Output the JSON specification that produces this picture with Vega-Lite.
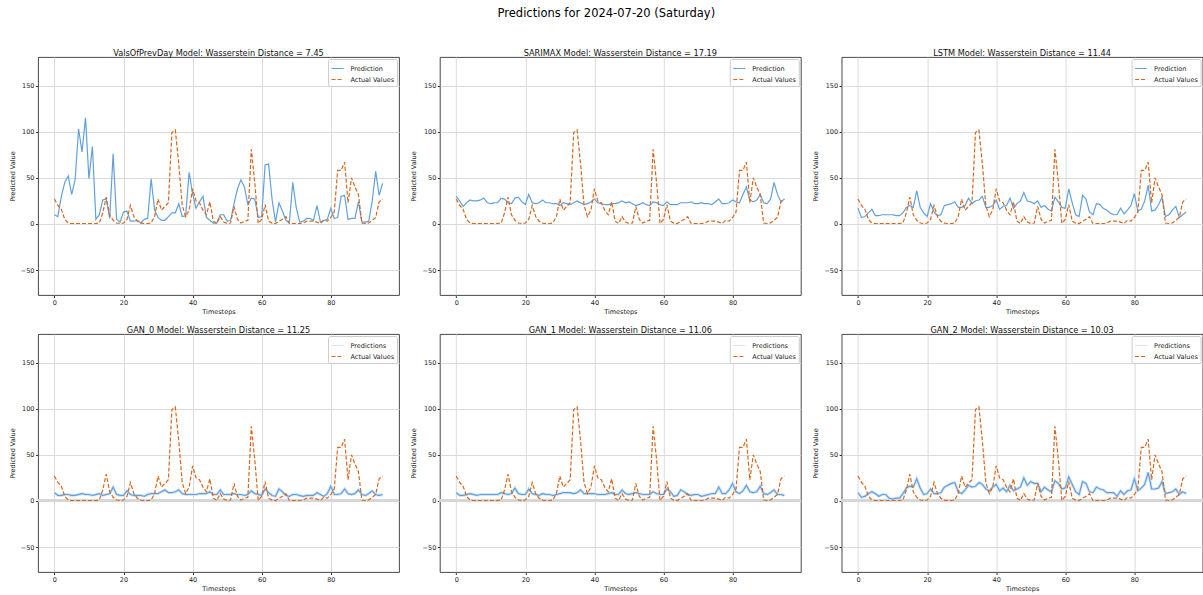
{
  "$schema": "https://vega.github.io/schema/vega-lite/v6.json",
  "title": {"text": "Predictions for 2024-07-20 (Saturday)", "fontSize": 11.5, "fontWeight": "normal", "offset": 28.5, "anchor": "middle", "color": "#000000"},
  "padding": {"left": 8, "top": 8, "right": 0, "bottom": 0},
  "datasets": {
    "ts": [
      {"t":0,"actual":27,"VPD":10,"SARIMAX":30,"LSTM":17,"GAN_0":9,"GAN_1":9,"GAN_2":9},
      {"t":1,"actual":20,"VPD":8,"SARIMAX":25,"LSTM":7,"GAN_0":6,"GAN_1":6,"GAN_2":4},
      {"t":2,"actual":16,"VPD":30,"SARIMAX":19,"LSTM":8,"GAN_0":6,"GAN_1":6,"GAN_2":5},
      {"t":3,"actual":5,"VPD":45,"SARIMAX":23,"LSTM":12,"GAN_0":7,"GAN_1":7,"GAN_2":8},
      {"t":4,"actual":1,"VPD":52,"SARIMAX":26,"LSTM":16,"GAN_0":7,"GAN_1":8,"GAN_2":10},
      {"t":5,"actual":0.5,"VPD":32,"SARIMAX":25,"LSTM":9,"GAN_0":6,"GAN_1":7,"GAN_2":8},
      {"t":6,"actual":0.5,"VPD":48,"SARIMAX":25,"LSTM":9,"GAN_0":6,"GAN_1":6,"GAN_2":5},
      {"t":7,"actual":0.5,"VPD":103,"SARIMAX":26,"LSTM":10,"GAN_0":7,"GAN_1":7,"GAN_2":7},
      {"t":8,"actual":0.5,"VPD":78,"SARIMAX":28,"LSTM":10,"GAN_0":8,"GAN_1":7,"GAN_2":7},
      {"t":9,"actual":0.5,"VPD":115,"SARIMAX":23,"LSTM":10,"GAN_0":7,"GAN_1":7,"GAN_2":3},
      {"t":10,"actual":0.5,"VPD":49,"SARIMAX":22,"LSTM":10,"GAN_0":7,"GAN_1":7,"GAN_2":2},
      {"t":11,"actual":0.5,"VPD":84,"SARIMAX":23,"LSTM":9,"GAN_0":6,"GAN_1":7,"GAN_2":3},
      {"t":12,"actual":0.5,"VPD":5,"SARIMAX":23,"LSTM":9,"GAN_0":7,"GAN_1":7,"GAN_2":3},
      {"t":13,"actual":1,"VPD":10,"SARIMAX":28,"LSTM":12,"GAN_0":8,"GAN_1":9,"GAN_2":8},
      {"t":14,"actual":12,"VPD":26,"SARIMAX":27,"LSTM":18,"GAN_0":6,"GAN_1":8,"GAN_2":14},
      {"t":15,"actual":29,"VPD":27,"SARIMAX":23,"LSTM":20,"GAN_0":7,"GAN_1":7,"GAN_2":16},
      {"t":16,"actual":10,"VPD":6,"SARIMAX":22,"LSTM":18,"GAN_0":8,"GAN_1":8,"GAN_2":15},
      {"t":17,"actual":4,"VPD":76,"SARIMAX":28,"LSTM":36,"GAN_0":15,"GAN_1":14,"GAN_2":24},
      {"t":18,"actual":1,"VPD":5,"SARIMAX":29,"LSTM":18,"GAN_0":7,"GAN_1":8,"GAN_2":14},
      {"t":19,"actual":0.5,"VPD":2,"SARIMAX":24,"LSTM":12,"GAN_0":6,"GAN_1":7,"GAN_2":7},
      {"t":20,"actual":1,"VPD":13,"SARIMAX":21,"LSTM":8,"GAN_0":6,"GAN_1":7,"GAN_2":8},
      {"t":21,"actual":5,"VPD":14,"SARIMAX":32,"LSTM":22,"GAN_0":11,"GAN_1":13,"GAN_2":13},
      {"t":22,"actual":20,"VPD":3,"SARIMAX":23,"LSTM":13,"GAN_0":7,"GAN_1":8,"GAN_2":8},
      {"t":23,"actual":8,"VPD":3,"SARIMAX":22,"LSTM":9,"GAN_0":6,"GAN_1":7,"GAN_2":8},
      {"t":24,"actual":3,"VPD":4,"SARIMAX":23,"LSTM":10,"GAN_0":6,"GAN_1":6,"GAN_2":9},
      {"t":25,"actual":1,"VPD":1,"SARIMAX":26,"LSTM":20,"GAN_0":6,"GAN_1":8,"GAN_2":15},
      {"t":26,"actual":0.5,"VPD":5,"SARIMAX":23,"LSTM":21,"GAN_0":5,"GAN_1":7,"GAN_2":17},
      {"t":27,"actual":0.5,"VPD":6,"SARIMAX":23,"LSTM":22,"GAN_0":7,"GAN_1":7,"GAN_2":19},
      {"t":28,"actual":1,"VPD":49,"SARIMAX":22,"LSTM":24,"GAN_0":8,"GAN_1":6,"GAN_2":20},
      {"t":29,"actual":8,"VPD":15,"SARIMAX":22,"LSTM":18,"GAN_0":8,"GAN_1":7,"GAN_2":10},
      {"t":30,"actual":27,"VPD":7,"SARIMAX":20,"LSTM":18,"GAN_0":8,"GAN_1":8,"GAN_2":8},
      {"t":31,"actual":15,"VPD":4,"SARIMAX":23,"LSTM":20,"GAN_0":10,"GAN_1":9,"GAN_2":12},
      {"t":32,"actual":19,"VPD":4,"SARIMAX":22,"LSTM":28,"GAN_0":12,"GAN_1":9,"GAN_2":17},
      {"t":33,"actual":23,"VPD":8,"SARIMAX":21,"LSTM":22,"GAN_0":9,"GAN_1":9,"GAN_2":15},
      {"t":34,"actual":99,"VPD":12,"SARIMAX":23,"LSTM":25,"GAN_0":9,"GAN_1":8,"GAN_2":16},
      {"t":35,"actual":102,"VPD":12,"SARIMAX":25,"LSTM":26,"GAN_0":10,"GAN_1":9,"GAN_2":20},
      {"t":36,"actual":65,"VPD":22,"SARIMAX":23,"LSTM":30,"GAN_0":12,"GAN_1":12,"GAN_2":18},
      {"t":37,"actual":20,"VPD":8,"SARIMAX":21,"LSTM":18,"GAN_0":8,"GAN_1":8,"GAN_2":13},
      {"t":38,"actual":8,"VPD":9,"SARIMAX":22,"LSTM":18,"GAN_0":7,"GAN_1":8,"GAN_2":11},
      {"t":39,"actual":15,"VPD":56,"SARIMAX":24,"LSTM":20,"GAN_0":7,"GAN_1":8,"GAN_2":15},
      {"t":40,"actual":38,"VPD":33,"SARIMAX":27,"LSTM":26,"GAN_0":7,"GAN_1":8,"GAN_2":18},
      {"t":41,"actual":25,"VPD":17,"SARIMAX":23,"LSTM":16,"GAN_0":7,"GAN_1":7,"GAN_2":11},
      {"t":42,"actual":23,"VPD":24,"SARIMAX":22,"LSTM":19,"GAN_0":8,"GAN_1":7,"GAN_2":14},
      {"t":43,"actual":15,"VPD":30,"SARIMAX":21,"LSTM":20,"GAN_0":8,"GAN_1":7,"GAN_2":10},
      {"t":44,"actual":10,"VPD":7,"SARIMAX":21,"LSTM":28,"GAN_0":8,"GAN_1":8,"GAN_2":17},
      {"t":45,"actual":24,"VPD":4,"SARIMAX":22,"LSTM":17,"GAN_0":10,"GAN_1":9,"GAN_2":11},
      {"t":46,"actual":3,"VPD":1,"SARIMAX":22,"LSTM":22,"GAN_0":7,"GAN_1":7,"GAN_2":13},
      {"t":47,"actual":0.5,"VPD":1,"SARIMAX":23,"LSTM":25,"GAN_0":7,"GAN_1":7,"GAN_2":15},
      {"t":48,"actual":8,"VPD":10,"SARIMAX":25,"LSTM":34,"GAN_0":12,"GAN_1":12,"GAN_2":25},
      {"t":49,"actual":2,"VPD":10,"SARIMAX":23,"LSTM":25,"GAN_0":7,"GAN_1":8,"GAN_2":17},
      {"t":50,"actual":0.5,"VPD":3,"SARIMAX":24,"LSTM":24,"GAN_0":7,"GAN_1":7,"GAN_2":21},
      {"t":51,"actual":1,"VPD":4,"SARIMAX":22,"LSTM":22,"GAN_0":7,"GAN_1":8,"GAN_2":19},
      {"t":52,"actual":19,"VPD":22,"SARIMAX":20,"LSTM":25,"GAN_0":8,"GAN_1":9,"GAN_2":19},
      {"t":53,"actual":5,"VPD":38,"SARIMAX":21,"LSTM":18,"GAN_0":7,"GAN_1":8,"GAN_2":10},
      {"t":54,"actual":1,"VPD":48,"SARIMAX":23,"LSTM":20,"GAN_0":7,"GAN_1":7,"GAN_2":15},
      {"t":55,"actual":3,"VPD":40,"SARIMAX":21,"LSTM":16,"GAN_0":6,"GAN_1":7,"GAN_2":12},
      {"t":56,"actual":4,"VPD":21,"SARIMAX":20,"LSTM":14,"GAN_0":7,"GAN_1":7,"GAN_2":10},
      {"t":57,"actual":81,"VPD":28,"SARIMAX":24,"LSTM":29,"GAN_0":11,"GAN_1":10,"GAN_2":22},
      {"t":58,"actual":45,"VPD":27,"SARIMAX":23,"LSTM":24,"GAN_0":8,"GAN_1":8,"GAN_2":19},
      {"t":59,"actual":0.5,"VPD":7,"SARIMAX":21,"LSTM":18,"GAN_0":7,"GAN_1":7,"GAN_2":13},
      {"t":60,"actual":5,"VPD":8,"SARIMAX":20,"LSTM":17,"GAN_0":6,"GAN_1":7,"GAN_2":14},
      {"t":61,"actual":21,"VPD":64,"SARIMAX":24,"LSTM":38,"GAN_0":13,"GAN_1":13,"GAN_2":26},
      {"t":62,"actual":3,"VPD":65,"SARIMAX":21,"LSTM":23,"GAN_0":9,"GAN_1":10,"GAN_2":18},
      {"t":63,"actual":1,"VPD":27,"SARIMAX":21,"LSTM":10,"GAN_0":6,"GAN_1":5,"GAN_2":10},
      {"t":64,"actual":0.5,"VPD":2,"SARIMAX":21,"LSTM":8,"GAN_0":5,"GAN_1":6,"GAN_2":7},
      {"t":65,"actual":3,"VPD":23,"SARIMAX":23,"LSTM":31,"GAN_0":13,"GAN_1":12,"GAN_2":21},
      {"t":66,"actual":5,"VPD":14,"SARIMAX":23,"LSTM":27,"GAN_0":10,"GAN_1":10,"GAN_2":19},
      {"t":67,"actual":8,"VPD":4,"SARIMAX":23,"LSTM":13,"GAN_0":6,"GAN_1":7,"GAN_2":10},
      {"t":68,"actual":0.5,"VPD":1,"SARIMAX":24,"LSTM":10,"GAN_0":5,"GAN_1":6,"GAN_2":9},
      {"t":69,"actual":0.5,"VPD":45,"SARIMAX":22,"LSTM":22,"GAN_0":7,"GAN_1":7,"GAN_2":15},
      {"t":70,"actual":0.5,"VPD":18,"SARIMAX":22,"LSTM":21,"GAN_0":7,"GAN_1":7,"GAN_2":13},
      {"t":71,"actual":0.5,"VPD":2,"SARIMAX":23,"LSTM":17,"GAN_0":6,"GAN_1":5,"GAN_2":12},
      {"t":72,"actual":1,"VPD":3,"SARIMAX":22,"LSTM":15,"GAN_0":5,"GAN_1":6,"GAN_2":9},
      {"t":73,"actual":3,"VPD":6,"SARIMAX":22,"LSTM":12,"GAN_0":6,"GAN_1":7,"GAN_2":9},
      {"t":74,"actual":3,"VPD":6,"SARIMAX":21,"LSTM":10,"GAN_0":6,"GAN_1":8,"GAN_2":9},
      {"t":75,"actual":3,"VPD":4,"SARIMAX":24,"LSTM":10,"GAN_0":6,"GAN_1":8,"GAN_2":5},
      {"t":76,"actual":2,"VPD":20,"SARIMAX":27,"LSTM":17,"GAN_0":9,"GAN_1":15,"GAN_2":11},
      {"t":77,"actual":0.5,"VPD":2,"SARIMAX":22,"LSTM":11,"GAN_0":7,"GAN_1":8,"GAN_2":7},
      {"t":78,"actual":4,"VPD":4,"SARIMAX":22,"LSTM":15,"GAN_0":5,"GAN_1":8,"GAN_2":11},
      {"t":79,"actual":3,"VPD":5,"SARIMAX":23,"LSTM":20,"GAN_0":8,"GAN_1":12,"GAN_2":12},
      {"t":80,"actual":7,"VPD":17,"SARIMAX":26,"LSTM":33,"GAN_0":16,"GAN_1":19,"GAN_2":24},
      {"t":81,"actual":13,"VPD":6,"SARIMAX":24,"LSTM":14,"GAN_0":7,"GAN_1":10,"GAN_2":11},
      {"t":82,"actual":58,"VPD":7,"SARIMAX":23,"LSTM":16,"GAN_0":7,"GAN_1":8,"GAN_2":14},
      {"t":83,"actual":58,"VPD":30,"SARIMAX":32,"LSTM":25,"GAN_0":8,"GAN_1":11,"GAN_2":18},
      {"t":84,"actual":67,"VPD":31,"SARIMAX":40,"LSTM":42,"GAN_0":13,"GAN_1":17,"GAN_2":31},
      {"t":85,"actual":23,"VPD":5,"SARIMAX":26,"LSTM":14,"GAN_0":8,"GAN_1":10,"GAN_2":13},
      {"t":86,"actual":50,"VPD":6,"SARIMAX":24,"LSTM":15,"GAN_0":7,"GAN_1":9,"GAN_2":13},
      {"t":87,"actual":40,"VPD":6,"SARIMAX":26,"LSTM":21,"GAN_0":8,"GAN_1":10,"GAN_2":14},
      {"t":88,"actual":32,"VPD":24,"SARIMAX":32,"LSTM":29,"GAN_0":12,"GAN_1":16,"GAN_2":21},
      {"t":89,"actual":1,"VPD":2,"SARIMAX":23,"LSTM":8,"GAN_0":7,"GAN_1":8,"GAN_2":8},
      {"t":90,"actual":0.5,"VPD":2,"SARIMAX":22,"LSTM":10,"GAN_0":6,"GAN_1":7,"GAN_2":9},
      {"t":91,"actual":1,"VPD":3,"SARIMAX":27,"LSTM":15,"GAN_0":8,"GAN_1":9,"GAN_2":10},
      {"t":92,"actual":4,"VPD":25,"SARIMAX":45,"LSTM":19,"GAN_0":11,"GAN_1":12,"GAN_2":13},
      {"t":93,"actual":7,"VPD":57,"SARIMAX":32,"LSTM":7,"GAN_0":7,"GAN_1":7,"GAN_2":7},
      {"t":94,"actual":24,"VPD":31,"SARIMAX":24,"LSTM":10,"GAN_0":6,"GAN_1":7,"GAN_2":10},
      {"t":95,"actual":27,"VPD":44,"SARIMAX":27,"LSTM":13,"GAN_0":7,"GAN_1":6,"GAN_2":8}
    ]
  },
  "data": {"name": "ts"},
  "columns": 3,
  "spacing": {"row": 9, "column": 8.8},
  "concat": [
    {
      "title": "ValsOfPrevDay Model: Wasserstein Distance = 7.45",
      "width": 361, "height": 238,
      "encoding": {
        "x": {"field": "t", "type": "quantitative", "scale": {"domain": [-4.75, 99.75], "nice": false, "zero": false}, "axis": {"values": [0, 20, 40, 60, 80], "title": "Timesteps"}},
        "y": {"field": "value", "type": "quantitative", "scale": {"domain": [-77, 181], "nice": false}, "axis": {"values": [-50, 0, 50, 100, 150], "title": "Predicted Value"}},
        "color": {"field": "series", "type": "nominal", "scale": {"domain": ["VPD", "actual"], "range": ["#62a0dc", "#d8661c"]}, "legend": {"title": null, "labelExpr": "datum.label == 'actual' ? 'Actual Values' : 'Prediction'"}},
        "strokeDash": {"field": "series", "type": "nominal", "scale": {"domain": ["VPD", "actual"], "range": [[1, 0], [4, 2]]}, "legend": {"title": null, "labelExpr": "datum.label == 'actual' ? 'Actual Values' : 'Prediction'"}}
      },
      "layer": [
        {"transform": [{"fold": ["VPD"], "as": ["series", "value"]}], "mark": {"type": "line"}},
        {"transform": [{"fold": ["actual"], "as": ["series", "value"]}], "mark": {"type": "line"}}
      ]
    },
    {
      "title": "SARIMAX Model: Wasserstein Distance = 17.19",
      "width": 361, "height": 238,
      "encoding": {
        "x": {"field": "t", "type": "quantitative", "scale": {"domain": [-4.75, 99.75], "nice": false, "zero": false}, "axis": {"values": [0, 20, 40, 60, 80], "title": "Timesteps"}},
        "y": {"field": "value", "type": "quantitative", "scale": {"domain": [-77, 181], "nice": false}, "axis": {"values": [-50, 0, 50, 100, 150], "title": "Predicted Value"}},
        "color": {"field": "series", "type": "nominal", "scale": {"domain": ["SARIMAX", "actual"], "range": ["#62a0dc", "#d8661c"]}, "legend": {"title": null, "labelExpr": "datum.label == 'actual' ? 'Actual Values' : 'Prediction'"}},
        "strokeDash": {"field": "series", "type": "nominal", "scale": {"domain": ["SARIMAX", "actual"], "range": [[1, 0], [4, 2]]}, "legend": {"title": null, "labelExpr": "datum.label == 'actual' ? 'Actual Values' : 'Prediction'"}}
      },
      "layer": [
        {"transform": [{"fold": ["SARIMAX"], "as": ["series", "value"]}], "mark": {"type": "line"}},
        {"transform": [{"fold": ["actual"], "as": ["series", "value"]}], "mark": {"type": "line"}}
      ]
    },
    {
      "title": "LSTM Model: Wasserstein Distance = 11.44",
      "width": 361, "height": 238,
      "encoding": {
        "x": {"field": "t", "type": "quantitative", "scale": {"domain": [-4.75, 99.75], "nice": false, "zero": false}, "axis": {"values": [0, 20, 40, 60, 80], "title": "Timesteps"}},
        "y": {"field": "value", "type": "quantitative", "scale": {"domain": [-77, 181], "nice": false}, "axis": {"values": [-50, 0, 50, 100, 150], "title": "Predicted Value"}},
        "color": {"field": "series", "type": "nominal", "scale": {"domain": ["LSTM", "actual"], "range": ["#62a0dc", "#d8661c"]}, "legend": {"title": null, "labelExpr": "datum.label == 'actual' ? 'Actual Values' : 'Prediction'"}},
        "strokeDash": {"field": "series", "type": "nominal", "scale": {"domain": ["LSTM", "actual"], "range": [[1, 0], [4, 2]]}, "legend": {"title": null, "labelExpr": "datum.label == 'actual' ? 'Actual Values' : 'Prediction'"}}
      },
      "layer": [
        {"transform": [{"fold": ["LSTM"], "as": ["series", "value"]}], "mark": {"type": "line"}},
        {"transform": [{"fold": ["actual"], "as": ["series", "value"]}], "mark": {"type": "line"}}
      ]
    },
    {
      "title": "GAN_0 Model: Wasserstein Distance = 11.25",
      "width": 361, "height": 238,
      "layer": [
        {"mark": {"type": "rule", "color": "#d6d6d6", "strokeWidth": 2.2}, "encoding": {"y": {"datum": 0, "type": "quantitative", "scale": {"domain": [-77, 181], "nice": false}}}},
        {
          "encoding": {
            "x": {"field": "t", "type": "quantitative", "scale": {"domain": [-4.75, 99.75], "nice": false, "zero": false}, "axis": {"values": [0, 20, 40, 60, 80], "title": "Timesteps"}},
            "y": {"field": "value", "type": "quantitative", "scale": {"domain": [-77, 181], "nice": false}, "axis": {"values": [-50, 0, 50, 100, 150], "title": "Predicted Value"}},
            "color": {"field": "series", "type": "nominal", "scale": {"domain": ["GAN_0", "actual"], "range": ["#d6e5f5", "#d8661c"]}, "legend": {"title": null, "labelExpr": "datum.label == 'actual' ? 'Actual Values' : 'Predictions'"}},
            "strokeDash": {"field": "series", "type": "nominal", "scale": {"domain": ["GAN_0", "actual"], "range": [[1, 0], [4, 2]]}, "legend": {"title": null, "labelExpr": "datum.label == 'actual' ? 'Actual Values' : 'Predictions'"}}
          },
          "layer": [
            {"transform": [{"fold": ["GAN_0"], "as": ["series", "value"]}], "mark": {"type": "line", "strokeWidth": 3}},
            {"transform": [{"fold": ["GAN_0"], "as": ["series", "value"]}], "mark": {"type": "line"}, "encoding": {"color": {"value": "#62a0dc"}, "strokeDash": {"value": [1, 0]}}},
            {"transform": [{"fold": ["actual"], "as": ["series", "value"]}], "mark": {"type": "line"}}
          ]
        }
      ]
    },
    {
      "title": "GAN_1 Model: Wasserstein Distance = 11.06",
      "width": 361, "height": 238,
      "layer": [
        {"mark": {"type": "rule", "color": "#d6d6d6", "strokeWidth": 2.2}, "encoding": {"y": {"datum": 0, "type": "quantitative", "scale": {"domain": [-77, 181], "nice": false}}}},
        {
          "encoding": {
            "x": {"field": "t", "type": "quantitative", "scale": {"domain": [-4.75, 99.75], "nice": false, "zero": false}, "axis": {"values": [0, 20, 40, 60, 80], "title": "Timesteps"}},
            "y": {"field": "value", "type": "quantitative", "scale": {"domain": [-77, 181], "nice": false}, "axis": {"values": [-50, 0, 50, 100, 150], "title": "Predicted Value"}},
            "color": {"field": "series", "type": "nominal", "scale": {"domain": ["GAN_1", "actual"], "range": ["#d6e5f5", "#d8661c"]}, "legend": {"title": null, "labelExpr": "datum.label == 'actual' ? 'Actual Values' : 'Predictions'"}},
            "strokeDash": {"field": "series", "type": "nominal", "scale": {"domain": ["GAN_1", "actual"], "range": [[1, 0], [4, 2]]}, "legend": {"title": null, "labelExpr": "datum.label == 'actual' ? 'Actual Values' : 'Predictions'"}}
          },
          "layer": [
            {"transform": [{"fold": ["GAN_1"], "as": ["series", "value"]}], "mark": {"type": "line", "strokeWidth": 3}},
            {"transform": [{"fold": ["GAN_1"], "as": ["series", "value"]}], "mark": {"type": "line"}, "encoding": {"color": {"value": "#62a0dc"}, "strokeDash": {"value": [1, 0]}}},
            {"transform": [{"fold": ["actual"], "as": ["series", "value"]}], "mark": {"type": "line"}}
          ]
        }
      ]
    },
    {
      "title": "GAN_2 Model: Wasserstein Distance = 10.03",
      "width": 361, "height": 238,
      "layer": [
        {"mark": {"type": "rule", "color": "#d6d6d6", "strokeWidth": 2.2}, "encoding": {"y": {"datum": 0, "type": "quantitative", "scale": {"domain": [-77, 181], "nice": false}}}},
        {
          "encoding": {
            "x": {"field": "t", "type": "quantitative", "scale": {"domain": [-4.75, 99.75], "nice": false, "zero": false}, "axis": {"values": [0, 20, 40, 60, 80], "title": "Timesteps"}},
            "y": {"field": "value", "type": "quantitative", "scale": {"domain": [-77, 181], "nice": false}, "axis": {"values": [-50, 0, 50, 100, 150], "title": "Predicted Value"}},
            "color": {"field": "series", "type": "nominal", "scale": {"domain": ["GAN_2", "actual"], "range": ["#d6e5f5", "#d8661c"]}, "legend": {"title": null, "labelExpr": "datum.label == 'actual' ? 'Actual Values' : 'Predictions'"}},
            "strokeDash": {"field": "series", "type": "nominal", "scale": {"domain": ["GAN_2", "actual"], "range": [[1, 0], [4, 2]]}, "legend": {"title": null, "labelExpr": "datum.label == 'actual' ? 'Actual Values' : 'Predictions'"}}
          },
          "layer": [
            {"transform": [{"fold": ["GAN_2"], "as": ["series", "value"]}], "mark": {"type": "line", "strokeWidth": 3}},
            {"transform": [{"fold": ["GAN_2"], "as": ["series", "value"]}], "mark": {"type": "line"}, "encoding": {"color": {"value": "#62a0dc"}, "strokeDash": {"value": [1, 0]}}},
            {"transform": [{"fold": ["actual"], "as": ["series", "value"]}], "mark": {"type": "line"}}
          ]
        }
      ]
    }
  ],
  "resolve": {"scale": {"color": "independent", "strokeDash": "independent", "x": "independent", "y": "independent"}},
  "config": {
    "font": "DejaVu Sans",
    "view": {"stroke": "#333333", "strokeWidth": 0.9},
    "title": {"fontSize": 8.2, "fontWeight": "normal", "offset": -1, "color": "#111111", "anchor": "middle"},
    "axis": {"domain": false, "grid": true, "gridColor": "#dadada", "gridWidth": 1, "tickColor": "#333333", "tickSize": 2.5, "labelFontSize": 6.5, "labelColor": "#222222", "titleFontSize": 6.5, "titleFontWeight": "normal", "titleColor": "#222222", "labelPadding": 1.5, "labelFlush": false},
    "axisY": {"minExtent": 18, "maxExtent": 18, "titlePadding": 5},
    "axisX": {"titlePadding": 3},
    "legend": {"orient": "top-right", "offset": 2, "padding": 2.5, "strokeColor": "#cccccc", "fillColor": "rgba(255,255,255,0.85)", "cornerRadius": 2, "labelFontSize": 6.5, "labelColor": "#222222", "symbolType": "stroke", "symbolSize": 144, "symbolStrokeWidth": 1.2, "rowPadding": -1, "labelOffset": 6},
    "line": {"strokeWidth": 1.2}
  }
}
